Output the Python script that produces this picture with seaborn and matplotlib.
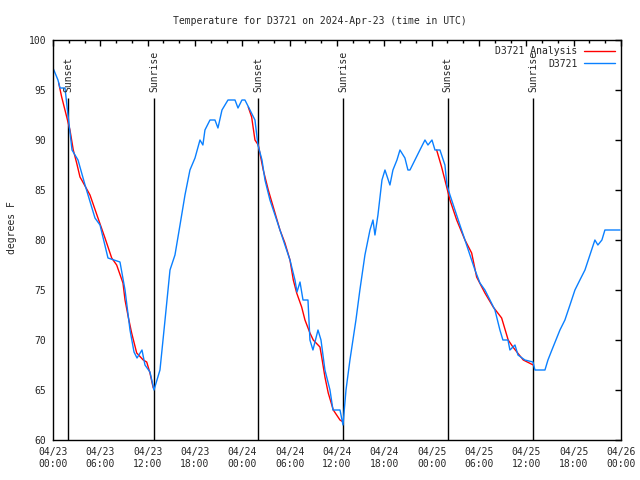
import numpy as np
import pandas as pd
import matplotlib
matplotlib.use("Agg")
import matplotlib.pyplot as plt
import matplotlib.dates as mdates
import seaborn as sns

# hours after 2024-04-23 00:00 UTC, temperatures in F
obs_hours = [0.0, 0.63, 0.89, 1.52, 1.9, 2.41, 3.17, 4.06, 5.32, 5.96, 6.97, 8.49,
             9.13, 9.76, 10.27, 10.65, 11.28, 11.66, 12.29, 12.8, 13.56, 14.2, 14.83,
             15.46, 16.1, 16.73, 17.36, 18.0, 18.63, 19.0, 19.26, 19.9, 20.53, 20.91,
             21.42, 22.18, 23.07, 23.45, 23.95, 24.33, 24.97, 25.6, 25.98, 26.49,
             26.87, 27.5, 28.14, 28.77, 29.4, 30.04, 30.67, 30.93, 31.31, 31.69,
             32.32, 32.57, 32.95, 33.59, 33.97, 34.47, 35.11, 35.49, 36.38, 36.76,
             37.14, 37.64, 38.02, 38.4, 38.9, 39.54, 40.18, 40.56, 40.81, 41.19,
             41.7, 42.08, 42.71, 43.09, 43.6, 43.98, 44.61, 44.99, 45.25, 45.88,
             46.51, 47.15, 47.53, 48.04, 48.42, 49.05, 49.68, 49.94, 50.32, 50.95,
             51.58, 52.22, 52.85, 53.49, 54.12, 54.75, 55.39, 56.02, 56.65, 57.03,
             57.67, 57.92, 58.56, 58.94, 59.82, 60.84, 61.09, 62.36, 62.74, 63.24,
             63.75, 64.26, 64.89, 65.53, 66.16, 66.79, 67.43, 68.06, 68.69, 69.07,
             69.58, 69.96, 71.86]
obs_temp = [97.2, 96, 95.2, 95.2, 92.5, 89, 88, 85.5, 82.2, 81.5, 78.2, 77.8,
            75, 71, 68.8, 68.2, 69, 67.5, 66.8, 65, 67, 72, 77,
            78.5, 81.5, 84.5, 87, 88.2, 90, 89.5, 91, 92, 92, 91.2,
            93, 94, 94, 93.2, 94, 94, 93, 92, 89.5, 88,
            86, 84, 82.5, 81, 79.5, 78, 76, 74.8, 75.8, 74,
            74, 70, 69, 71, 70, 67, 65, 63, 63, 61.5,
            65, 68, 70, 72, 75, 78.5, 81, 82, 80.5, 82.5,
            86, 87, 85.5, 87, 88, 89, 88.2, 87, 87, 88,
            89, 90, 89.5, 90, 89, 89, 87.5, 85.5, 84.5, 83,
            81.5, 80, 78.5, 77, 75.7, 75, 74, 73, 71, 70,
            70, 69, 69.5, 68.5, 68, 67.8, 67, 67, 68, 69,
            70, 71, 72, 73.5, 75, 76, 77, 78.5, 80, 79.5,
            80, 81, 81]

ana_hours = [0.72, 1.10, 1.74, 2.15, 2.57, 3.0, 3.42, 3.64, 4.69, 5.70, 6.59, 7.44,
             8.07, 8.87, 9.13, 9.54, 9.97, 10.61, 11.44, 11.88, 12.29, 12.71,
             24.75, 25.18, 25.6, 26.02, 26.65, 27.29, 27.92, 28.77, 29.4, 30.04,
             30.46, 30.89, 31.52, 31.94, 32.57, 32.99, 33.84, 34.06, 34.47, 34.89,
             35.53, 36.38, 36.79,
             48.63, 49.26, 49.68, 50.32, 51.17, 52.22, 53.07, 53.7, 54.75, 55.8,
             56.87, 57.7, 58.3, 59.61, 60.88]
ana_temp = [95.7, 94.3, 92.3, 91, 89, 87.7, 86.3, 86, 84.5, 82.2, 80.2, 78.2,
            77.5, 75.7, 74, 72.3, 70.7, 68.7, 68, 67.8, 66.7, 65.2,
            93.3, 92.3, 90, 89.5, 87, 85, 83.3, 81, 79.7, 78,
            76, 74.7, 73.3, 72, 70.7, 70, 69.3, 68.3, 66.3, 64.7,
            63, 62, 61.8,
            89, 87.3, 86, 84, 82, 80, 78.7, 76.3, 74.7, 73.3,
            72.2, 70, 69.3, 68, 67.5]
ana_segment = [1] * 22 + [2] * 23 + [3] * 15

sun_hours = [1.95, 12.85, 26.0, 36.8, 50.05, 60.9]
sun_labels = ["Sunset", "Sunrise", "Sunset", "Sunrise", "Sunset", "Sunrise"]

start = pd.Timestamp("2024-04-23 00:00")
obs = pd.DataFrame({"time": start + pd.to_timedelta(obs_hours, unit="h"), "temp": obs_temp})
ana = pd.DataFrame({"time": start + pd.to_timedelta(ana_hours, unit="h"), "temp": ana_temp,
                    "seg": ana_segment})

sns.set_style("white")
plt.rcParams["font.family"] = ["DejaVu Sans Mono"]
plt.rcParams["font.size"] = 7

fig = plt.figure(figsize=(6.4, 4.8), dpi=100)
ax = fig.add_axes([53 / 640, 40 / 480, 568 / 640, 400 / 480])

# sunrise / sunset markers
for h, lab in zip(sun_hours, sun_labels):
    t = start + pd.Timedelta(hours=h)
    ax.vlines(t, 60, 94.2, color="black", lw=1.0)
    ax.text(t, 94.8, lab, rotation=90, ha="center", va="bottom", fontsize=7)

# analysis drawn as three separate pieces, only first one gets a legend entry
for i, (seg, part) in enumerate(ana.groupby("seg")):
    sns.lineplot(data=part, x="time", y="temp", ax=ax, color="#ff0000", lw=1.0,
                 label="D3721 Analysis" if i == 0 else None, estimator=None)
sns.lineplot(data=obs, x="time", y="temp", ax=ax, color="#0a80ff", lw=1.0,
             label="D3721", estimator=None)

ax.set_xlim(start, start + pd.Timedelta(hours=72))
ax.set_ylim(60, 100)
ax.set_yticks(np.arange(60, 101, 5))
ax.xaxis.set_major_locator(mdates.HourLocator(byhour=[0, 6, 12, 18]))
ax.xaxis.set_minor_locator(mdates.HourLocator(interval=2))
ax.xaxis.set_major_formatter(mdates.DateFormatter("%m/%d\n%H:%M"))
ax.tick_params(which="both", direction="in", top=True, right=True, color="black",
               labelsize=7)
ax.tick_params(which="major", length=4, width=1, pad=5)
ax.tick_params(which="minor", length=2.3, width=1)
for s in ax.spines.values():
    s.set_color("black")
    s.set_linewidth(1.0)

ax.set_xlabel("")
ax.set_ylabel("degrees F", fontsize=7)
ax.yaxis.set_label_coords(-0.064, 0.53)
fig.suptitle("Temperature for D3721 on 2024-Apr-23 (time in UTC)", y=0.967, fontsize=7)

leg = ax.legend(loc="upper right", frameon=False, markerfirst=False, fontsize=7,
                handlelength=3.2, labelspacing=0.25, borderaxespad=0.25, handletextpad=0.6)

fig.savefig("out.png", dpi=100)
